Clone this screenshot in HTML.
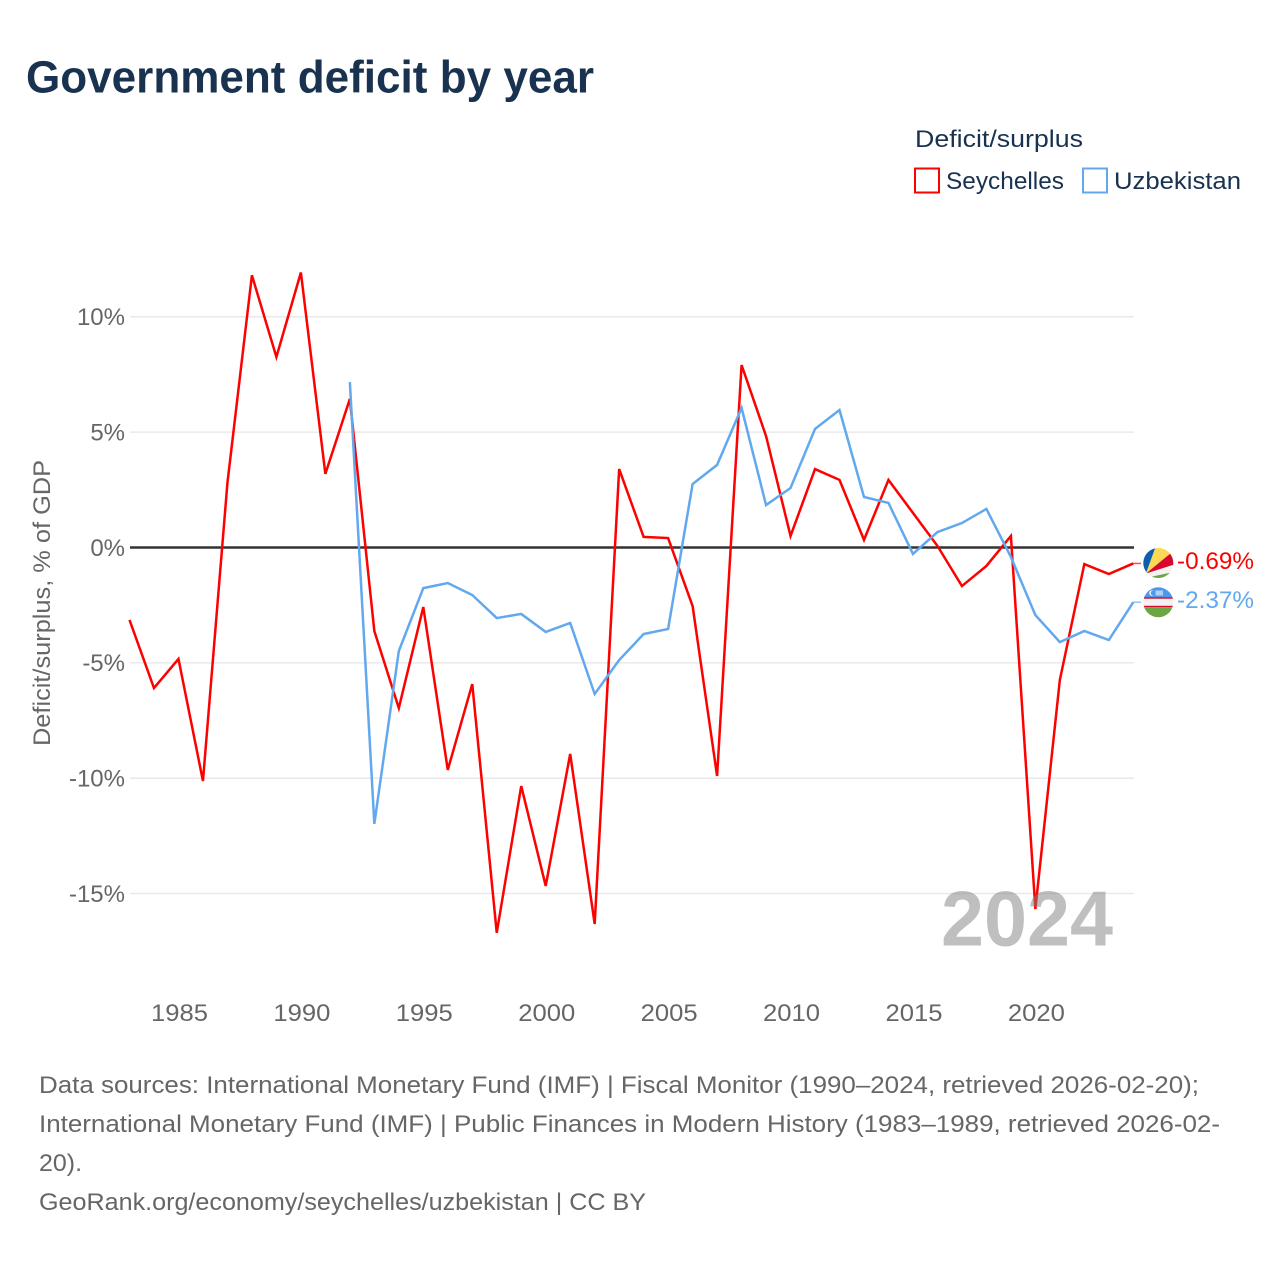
<!DOCTYPE html>
<html lang="en">
<head>
<meta charset="utf-8">
<title>Government deficit by year</title>
<style>
  html, body { margin: 0; padding: 0; background: #fff; }
  svg { display: block; font-family: "Liberation Sans", sans-serif; }
</style>
</head>
<body>
<svg id="chart" width="1280" height="1280" viewBox="0 0 1280 1280" xmlns="http://www.w3.org/2000/svg">
  <defs>
    <clipPath id="flag-clip-a"><circle cx="1158.3" cy="563" r="15"/></clipPath>
    <clipPath id="flag-clip-b"><circle cx="1158.3" cy="602.3" r="15"/></clipPath>
  </defs>
  <rect width="1280" height="1280" fill="#fff"/>
  <text x="26" y="92.5" font-size="45" font-weight="700" fill="#18324f" textLength="568" lengthAdjust="spacingAndGlyphs">Government deficit by year</text>

  <g>
    <text x="915" y="147" font-size="24" fill="#18324f" textLength="168" lengthAdjust="spacingAndGlyphs">Deficit/surplus</text>
    <rect x="915" y="168.5" width="24" height="24" fill="none" stroke="#ff0000" stroke-width="2"/>
    <text x="946" y="189" font-size="24" fill="#18324f" textLength="118" lengthAdjust="spacingAndGlyphs">Seychelles</text>
    <rect x="1083" y="168.5" width="24" height="24" fill="none" stroke="#62a8ee" stroke-width="2"/>
    <text x="1114" y="189" font-size="24" fill="#18324f" textLength="127" lengthAdjust="spacingAndGlyphs">Uzbekistan</text>
  </g>

  <text transform="translate(50 603) rotate(-90)" text-anchor="middle" font-size="24" fill="#666" textLength="286" lengthAdjust="spacingAndGlyphs">Deficit/surplus, % of GDP</text>

  <g id="grid"></g>
  <g id="y-ticks"></g>
  <g id="x-ticks"></g>
  <g id="series"></g>

  <text x="941" y="945.5" font-size="78" font-weight="700" fill="#808080" fill-opacity="0.5" textLength="172" lengthAdjust="spacingAndGlyphs">2024</text>

  <g clip-path="url(#flag-clip-a)">
    <rect x="1143" y="547" width="31" height="32" fill="#f2f2f2"/>
    <polygon points="1146,573.5 1140,573.5 1140,546 1156,546" fill="#0d5eaf"/>
    <polygon points="1146,573.5 1156,546 1176,546 1171,553" fill="#fcd955"/>
    <polygon points="1146,573.5 1171,553 1176,546 1176,564" fill="#d7082b"/>
    <polygon points="1146,574 1176,564 1176,572 1150,577" fill="#f2f2f2"/>
    <polygon points="1150,577 1176,571.5 1176,580 1150,580" fill="#6da544"/>
  </g>
  <g clip-path="url(#flag-clip-b)">
    <rect x="1143" y="587" width="31" height="11" fill="#4f97e8"/>
    <rect x="1143" y="598" width="31" height="9" fill="#f2f2f2"/>
    <rect x="1143" y="597.3" width="31" height="1.4" fill="#d7082b"/>
    <rect x="1143" y="605.8" width="31" height="1.4" fill="#d7082b"/>
    <rect x="1143" y="607.2" width="31" height="11" fill="#6da544"/>
    <circle cx="1152" cy="593" r="2.8" fill="#f2f2f2"/>
    <circle cx="1153.2" cy="593" r="2.4" fill="#4f97e8"/>
    <rect x="1155.5" y="590.5" width="7.5" height="5" fill="#cfe2f8" fill-opacity="0.75"/>
  </g>

  <text id="label-seychelles" x="1177" y="569" font-size="24" fill="#ff0000" textLength="77" lengthAdjust="spacingAndGlyphs"></text>
  <text id="label-uzbekistan" x="1177" y="608" font-size="24" fill="#62a8ee" textLength="77" lengthAdjust="spacingAndGlyphs"></text>

  <g font-size="24" fill="#666">
    <text x="39" y="1093" textLength="1160" lengthAdjust="spacingAndGlyphs">Data sources: International Monetary Fund (IMF) | Fiscal Monitor (1990–2024, retrieved 2026-02-20);</text>
    <text x="39" y="1132" textLength="1181" lengthAdjust="spacingAndGlyphs">International Monetary Fund (IMF) | Public Finances in Modern History (1983–1989, retrieved 2026-02-</text>
    <text x="39" y="1171" textLength="43" lengthAdjust="spacingAndGlyphs">20).</text>
    <text x="39" y="1210" textLength="607" lengthAdjust="spacingAndGlyphs">GeoRank.org/economy/seychelles/uzbekistan | CC BY</text>
  </g>
</svg>

<script>
const years = [1983,1984,1985,1986,1987,1988,1989,1990,1991,1992,1993,1994,1995,1996,1997,1998,1999,2000,2001,2002,2003,2004,2005,2006,2007,2008,2009,2010,2011,2012,2013,2014,2015,2016,2017,2018,2019,2020,2021,2022,2023,2024];
const seychellesValues = [-3.14,-6.09,-4.83,-10.12,2.8,11.8,8.26,11.92,3.19,6.44,-3.62,-6.96,-2.58,-9.64,-5.92,-16.7,-10.34,-14.67,-8.95,-16.32,3.4,0.46,0.41,-2.54,-9.9,7.91,4.83,0.5,3.4,2.93,0.33,2.93,1.5,0.07,-1.67,-0.8,0.5,-15.67,-5.74,-0.72,-1.15,-0.69];
const uzbekistanValues = [null,null,null,null,null,null,null,null,null,7.17,-11.98,-4.49,-1.76,-1.54,-2.06,-3.06,-2.88,-3.66,-3.27,-6.35,-4.88,-3.75,-3.53,2.75,3.58,6.05,1.84,2.58,5.14,5.96,2.19,1.93,-0.28,0.67,1.06,1.67,-0.41,-2.93,-4.1,-3.62,-4.01,-2.37];
const yTickValues = [10,5,0,-5,-10,-15];
const yTickLabels = ["10%","5%","0%","-5%","-10%","-15%"];
const xTickValues = [1985,1990,1995,2000,2005,2010,2015,2020];
const seychellesLabel = "-0.69%";
const uzbekistanLabel = "-2.37%";

const NS = "http://www.w3.org/2000/svg";
function xScale(year) { return 129.5 + (year - 1983) * (1133.3 - 129.5) / 41; }
function yScale(value) { return 547.5 - value * 23.07; }

function make(tag, attrs, parent) {
  const el = document.createElementNS(NS, tag);
  for (const k in attrs) el.setAttribute(k, attrs[k]);
  parent.appendChild(el);
  return el;
}

const grid = document.getElementById("grid");
const yTicks = document.getElementById("y-ticks");
const xTicks = document.getElementById("x-ticks");
const series = document.getElementById("series");

yTickValues.forEach(function (v, i) {
  const y = yScale(v);
  const isZero = v === 0;
  const line = make("line", { x1: 130, x2: 1134, y1: y, y2: y, stroke: isZero ? "#333333" : "#e9e9e9", "stroke-width": isZero ? 2.5 : 1.5 }, grid);
  
  
  const label = make("text", { x: 125, y: y + 8.3, "text-anchor": "end", "font-size": 24, fill: "#666" }, yTicks);
  
  
  label.textContent = yTickLabels[i];
});

xTickValues.forEach(function (yr) {
  const label = make("text", { x: xScale(yr) + 1, y: 1021, "text-anchor": "middle", "font-size": 24, fill: "#666", textLength: 57, lengthAdjust: "spacingAndGlyphs" }, xTicks);
  
  
  label.textContent = String(yr);
});

function pathFor(values) {
  let d = "";
  values.forEach(function (v, i) {
    if (v === null) return;
    d += (d ? "L" : "M") + xScale(years[i]).toFixed(2) + " " + yScale(v).toFixed(2);
  });
  return d;
}

function drawConnector(values, color) {
  const last = values[values.length - 1];
  const x = xScale(years[years.length - 1]);
  const c = make("line", { x1: x, x2: 1141, y1: yScale(last), y2: yScale(last), stroke: color, "stroke-width": 1.5, "stroke-opacity": 0.7 }, series);
  
  
}

const redPath = make("path", { d: pathFor(seychellesValues), fill: "none", stroke: "#ff0000", "stroke-width": 2.5, "stroke-linejoin": "miter", "stroke-miterlimit": 4 }, series);



const bluePath = make("path", { d: pathFor(uzbekistanValues), fill: "none", stroke: "#62a8ee", "stroke-width": 2.5, "stroke-linejoin": "miter", "stroke-miterlimit": 4 }, series);



drawConnector(seychellesValues, "#ff0000");
drawConnector(uzbekistanValues, "#62a8ee");

document.getElementById("label-seychelles").textContent = seychellesLabel;
document.getElementById("label-uzbekistan").textContent = uzbekistanLabel;
</script>
</body>
</html>
